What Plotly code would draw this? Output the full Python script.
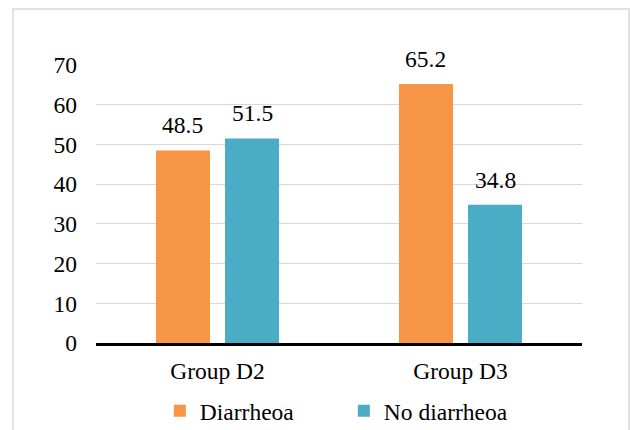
import plotly.graph_objects as go

# Share of animals with / without diarrhoea per group (%)
groups = ["Group D2", "Group D3"]
diarrhoea = [48.5, 65.2]
no_diarrhoea = [51.5, 34.8]
y_ticks = [0, 10, 20, 30, 40, 50, 60, 70]

ORANGE = "#F79646"
BLUE = "#4BACC6"
FONT = "Liberation Serif"
FS = 23.5

fig = go.Figure()
fig.add_trace(go.Bar(name="Diarrheoa", x=groups, y=diarrhoea,
                     marker=dict(color=ORANGE, line=dict(width=0))))
fig.add_trace(go.Bar(name="No diarrheoa", x=groups, y=no_diarrhoea,
                     marker=dict(color=BLUE, line=dict(width=0))))

# value labels above each bar
for i, g in enumerate(groups):
    for vals, off in ((diarrhoea, -0.142), (no_diarrhoea, 0.142)):
        fig.add_annotation(x=i + off, y=vals[i], text=f"{vals[i]:.1f}",
                           xref="x", yref="y", showarrow=False,
                           yanchor="bottom", yshift=10,
                           font=dict(family=FONT, size=FS, color="black"))

# outer chart frame
fig.add_shape(type="rect", xref="paper", yref="paper",
              x0=-0.1708, x1=1.0967, y0=-0.40, y1=1.2014,
              line=dict(color="#d9d9d9", width=1.5), fillcolor="rgba(0,0,0,0)")

fig.update_layout(
    width=630, height=430,
    margin=dict(l=96, r=48, t=65, b=87, autoexpand=False),
    paper_bgcolor="white", plot_bgcolor="white",
    barmode="group", bargap=0.432, bargroupgap=0.217,
    font=dict(family=FONT, size=FS, color="black"),
    showlegend=True,
    legend=dict(orientation="h", x=0.51, xanchor="center",
                yref="container", y=0.044, yanchor="middle",
                font=dict(family=FONT, size=FS, color="black"),
                entrywidth=139, itemwidth=30, traceorder="normal"),
    xaxis=dict(showline=True, linecolor="black", linewidth=2.5,
               ticks="", showgrid=False, ticklabelstandoff=5,
               tickfont=dict(family=FONT, size=FS, color="black")),
    yaxis=dict(range=[0, 70], tickvals=y_ticks, showgrid=True,
               gridcolor="#d9d9d9", gridwidth=1, zeroline=False,
               showline=False, ticks="", ticklabelstandoff=18,
               tickfont=dict(family=FONT, size=FS, color="black")),
)

fig.write_html("out.html")
